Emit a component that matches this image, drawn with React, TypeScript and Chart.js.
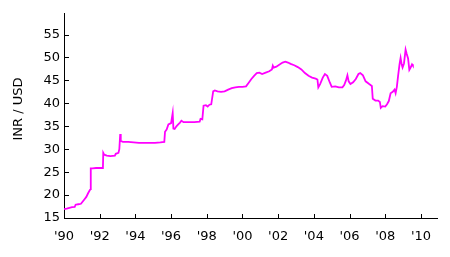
import React, { useEffect, useRef } from "react";
import { Chart, registerables } from "chart.js";
Chart.register(...registerables);

const years: number[] = [
  1990.0, 1990.15, 1990.3, 1990.45, 1990.6, 1990.65, 1990.8, 1990.95,
  1991.05, 1991.15, 1991.25, 1991.35, 1991.45, 1991.49, 1991.5, 1991.6, 1991.8,
  1992.0, 1992.18, 1992.2, 1992.25, 1992.4, 1992.6, 1992.85, 1992.9,
  1993.05, 1993.1, 1993.15, 1993.18, 1993.3, 1993.6, 1993.9,
  1994.2, 1994.5, 1994.8, 1995.1, 1995.4, 1995.62, 1995.66, 1995.75, 1995.85,
  1996.0, 1996.09, 1996.13, 1996.2, 1996.3, 1996.4, 1996.5, 1996.58, 1996.7,
  1997.0, 1997.3, 1997.6, 1997.65, 1997.75, 1997.82, 1997.95,
  1998.05, 1998.15, 1998.25, 1998.36, 1998.45, 1998.6, 1998.8,
  1999.0, 1999.2, 1999.4, 1999.6, 1999.8,
  2000.0, 2000.2, 2000.35, 2000.5, 2000.65, 2000.8, 2000.95,
  2001.1, 2001.3, 2001.5, 2001.65, 2001.7, 2001.75, 2001.9,
  2002.1, 2002.25, 2002.4, 2002.55, 2002.7, 2002.9,
  2003.1, 2003.3, 2003.5, 2003.7, 2003.9,
  2004.1, 2004.2, 2004.25, 2004.35, 2004.5, 2004.62, 2004.75, 2004.9,
  2005.0, 2005.2, 2005.4, 2005.6, 2005.7, 2005.8, 2005.88, 2005.95,
  2006.05, 2006.2, 2006.35, 2006.5, 2006.6, 2006.75, 2006.9,
  2007.1, 2007.25, 2007.3, 2007.45, 2007.6, 2007.7, 2007.75, 2007.85,
  2008.0, 2008.1, 2008.2, 2008.3, 2008.42, 2008.52, 2008.58, 2008.65, 2008.72, 2008.8, 2008.86, 2008.92, 2008.97,
  2009.05, 2009.14, 2009.2, 2009.28, 2009.35, 2009.42, 2009.5, 2009.55,
];

const rates: number[] = [
  16.95, 17.05, 17.2, 17.35, 17.4, 17.9, 18.0, 18.1,
  18.6, 19.1, 19.6, 20.4, 21.1, 21.3, 25.8, 25.8, 25.9,
  25.9, 25.9, 29.2, 28.8, 28.6, 28.5, 28.6, 29.0,
  29.2, 30.0, 33.3, 31.8, 31.6, 31.6, 31.5,
  31.4, 31.4, 31.4, 31.4, 31.5, 31.6, 33.8, 34.3, 35.4,
  35.7, 37.9, 34.5, 34.4, 35.0, 35.4, 35.8, 36.2, 35.9,
  35.9, 35.9, 36.0, 36.6, 36.5, 39.5, 39.6,
  39.3, 39.7, 39.8, 42.6, 42.8, 42.6, 42.5,
  42.6, 43.0, 43.3, 43.5, 43.6,
  43.6, 43.7, 44.5, 45.3, 46.0, 46.6, 46.7,
  46.4, 46.7, 47.0, 47.4, 48.2, 47.8, 48.0,
  48.5, 48.9, 49.1, 48.9, 48.6, 48.3,
  47.9, 47.4, 46.6, 46.0, 45.6,
  45.4, 45.2, 43.5, 44.2, 45.6, 46.4, 46.0, 44.5,
  43.6, 43.7, 43.5, 43.5, 44.0, 45.0, 46.1, 44.8,
  44.2, 44.6, 45.3, 46.4, 46.6, 46.1, 44.8,
  44.2, 43.8, 41.0, 40.6, 40.6, 40.3, 39.0, 39.4,
  39.3, 39.8, 40.5, 42.2, 42.5, 43.0, 42.2, 43.6, 46.0, 48.5, 49.9, 48.5, 47.8,
  48.7, 51.7, 50.8, 49.8, 47.3, 47.8, 48.5, 48.2,
];

const xTickYears: number[] = [1990, 1992, 1994, 1996, 1998, 2000, 2002, 2004, 2006, 2008, 2010];
const yTickValues: number[] = [15, 20, 25, 30, 35, 40, 45, 50, 55];
const yTitle = "INR / USD";

const FONT = { family: "'DejaVu Sans', sans-serif", size: 13 };

const innerTicks = {
  id: "innerTicks",
  afterDraw(chart: any) {
    const { ctx, chartArea, scales } = chart;
    ctx.save();
    ctx.strokeStyle = "#000";
    ctx.lineWidth = 1;
    ctx.beginPath();
    for (const v of xTickYears) {
      const px = Math.round(scales.x.getPixelForValue(v)) + 0.5;
      ctx.moveTo(px, chartArea.bottom);
      ctx.lineTo(px, chartArea.bottom - 4);
    }
    for (const v of yTickValues) {
      const py = Math.round(scales.y.getPixelForValue(v)) + 0.5;
      ctx.moveTo(chartArea.left, py);
      ctx.lineTo(chartArea.left + 5, py);
    }
    ctx.stroke();
    // y-axis title, slightly above the plot's vertical centre as in the reference
    ctx.translate(18.5, (chartArea.top + chartArea.bottom) / 2 - 6.5);
    ctx.rotate(-Math.PI / 2);
    ctx.fillStyle = "#000";
    ctx.font = `${FONT.size}px ${FONT.family}`;
    ctx.textAlign = "center";
    ctx.textBaseline = "middle";
    ctx.fillText(yTitle, 0, 0);
    ctx.restore();
  },
};

export default function App() {
  const ref = useRef<HTMLCanvasElement | null>(null);
  useEffect(() => {
    if (!ref.current) return;
    const data = years.map((x, i) => ({ x, y: rates[i] }));
    const chart = new Chart(ref.current, {
      type: "line",
      data: {
        datasets: [
          {
            data,
            borderColor: "#ff00ff",
            borderWidth: 1.8,
            pointRadius: 0,
            tension: 0,
            fill: false,
          },
        ],
      },
      options: {
        animation: false,
        responsive: false,
        devicePixelRatio: 1,
        layout: { padding: { left: 0, right: 13, top: 13, bottom: 0 } },
        plugins: { legend: { display: false }, tooltip: { enabled: false } },
        scales: {
          x: {
            type: "linear",
            min: 1990,
            max: 2010.9,
            afterBuildTicks: (s: any) => {
              s.ticks = xTickYears.map((v) => ({ value: v }));
            },
            afterFit: (s: any) => {
              s.height = 39;
            },
            ticks: {
              callback: (v: any) => "'" + String(v).slice(2),
              font: FONT,
              color: "#000",
              padding: 11,
              maxRotation: 0,
              autoSkip: false,
            },
            grid: { drawOnChartArea: false, drawTicks: false },
            border: { display: true, color: "#000", width: 1 },
          },
          y: {
            type: "linear",
            min: 15,
            max: 59.7,
            afterBuildTicks: (s: any) => {
              s.ticks = yTickValues.map((v) => ({ value: v }));
            },
            afterFit: (s: any) => {
              s.width = 64;
            },
            ticks: {
              font: FONT,
              color: "#000",
              padding: 4,
              autoSkip: false,
            },
            grid: { drawOnChartArea: false, drawTicks: false },
            border: { display: true, color: "#000", width: 1 },
          },
        },
      },
      plugins: [innerTicks],
    });
    return () => chart.destroy();
  }, []);
  return (
    <div style={{ position: "fixed", left: 0, top: 0, width: 450, height: 257, background: "#fff" }}>
      <canvas ref={ref} width={450} height={257} style={{ display: "block", width: 450, height: 257 }} />
    </div>
  );
}
